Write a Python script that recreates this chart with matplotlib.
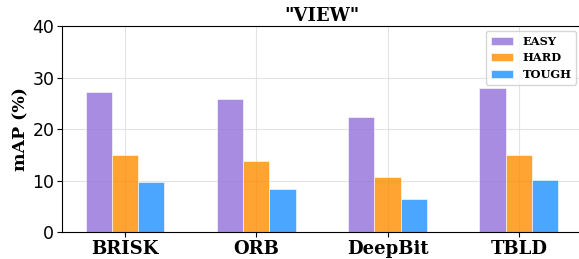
import numpy as np
import matplotlib
matplotlib.use('Agg')
import matplotlib.pyplot as plt

methods = ['BRISK', 'ORB', 'DeepBit', 'TBLD']
easy = [27.2, 25.9, 22.3, 27.9]
hard = [14.9, 13.8, 10.6, 14.9]
tough = [9.7, 8.4, 6.4, 10.1]

X_axis = np.arange(len(methods))

fig = plt.figure(figsize=(5.79, 2.59), dpi=100)
ax = fig.add_axes([0.107, 0.104, 0.898, 0.795])

ax.grid(color='#dddddd', linewidth=0.8, alpha=0.8, zorder=0)
ax.set_axisbelow(True)
ax.bar(X_axis - 0.2, easy, width=0.2, color='mediumpurple', alpha=0.8, edgecolor='white', linewidth=0.5, label='EASY')
ax.bar(X_axis, hard, width=0.2, color='darkorange', alpha=0.8, edgecolor='white', linewidth=0.5, label='HARD')
ax.bar(X_axis + 0.2, tough, width=0.2, color='dodgerblue', alpha=0.8, edgecolor='white', linewidth=0.5, label='TOUGH')

ax.set_ylim(0, 40)
ax.set_yticks([0, 10, 20, 30, 40])
ax.set_xticks(X_axis)
ax.set_xticklabels(methods, family='DejaVu Serif', fontweight='bold', fontsize=13)
ax.tick_params(axis='y', labelsize=12.5, pad=2)
ax.tick_params(axis='x', pad=2)
ax.set_ylabel('mAP (%)', family='DejaVu Serif', fontweight='bold', fontsize=12.5, labelpad=2)
ax.set_title('"VIEW"', family='DejaVu Serif', fontweight='bold', fontsize=13, pad=4)

leg = ax.legend(loc='upper right', bbox_to_anchor=(576 / 579, 1 - 31 / 259), bbox_transform=fig.transFigure,
                prop={'family': 'DejaVu Serif', 'weight': 'bold', 'size': 8.2}, borderaxespad=0)

fig.savefig('out.png', dpi=100)
